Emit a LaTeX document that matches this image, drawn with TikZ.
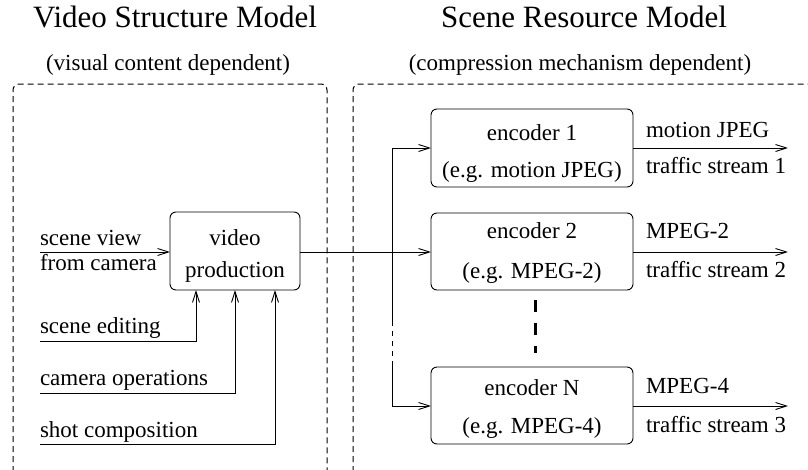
\documentclass[tikz,border=0pt]{standalone}
\usepackage{fontspec}
\setmainfont{Liberation Serif}
\usetikzlibrary{arrows.meta}
\begin{document}
\begin{tikzpicture}[x=1pt,y=-1pt,
  every node/.style={inner sep=0pt, outer sep=0pt},
  lbl/.style={font=\fontsize{23}{23}\selectfont, anchor=base west},
  ctr/.style={font=\fontsize{23}{23}\selectfont, anchor=base},
  ttl/.style={font=\fontsize{31}{31}\selectfont, anchor=base},
  box/.style={draw, line width=0.9pt, rounded corners=6pt},
  region/.style={draw, line width=1pt, dash pattern=on 6pt off 4pt, rounded corners=6pt},
  conn/.style={line width=0.9pt},
  arr/.style={conn, -{Straight Barb[length=11pt,width=7pt,line width=0.9pt]}},
  dots/.style={line width=3pt, dash pattern=on 12pt off 11pt}
]
\useasboundingbox (0,0) rectangle (808,469);

% titles
\node[ttl] (t1) at (175,27) {Video Structure Model};
\node[ttl] (t2) at (584,27) {Scene Resource Model};
\node[ctr] (s1) at (168,70) {(visual content dependent)};
\node[ctr] (s2) at (580,70) {(compression mechanism dependent)};

% dashed regions
\draw[region] (13,472) -- (13,84) -- (327,84) -- (327,472);
\draw[region] (353,472) -- (353,84) -- (812,84);

% video production
\node[box, minimum width=130pt, minimum height=78pt] (vp) at (235,251) {};
\node[ctr] (vp1) at (235,245) {video};
\node[ctr] (vp2) at (235,277) {production};

% encoders
\node[box, minimum width=202pt, minimum height=78pt] (e1) at (532,148) {};
\node[ctr] (e1a) at (532,140) {encoder 1};
\node[ctr] (e1b) at (532,177) {(e.g. motion JPEG)};
\node[box, minimum width=202pt, minimum height=77pt] (e2) at (532,251.5) {};
\node[ctr] (e2a) at (532,238) {encoder 2};
\node[ctr] (e2b) at (532,278) {(e.g. MPEG-2)};
\node[box, minimum width=202pt, minimum height=77pt] (eN) at (532,405.5) {};
\node[ctr] (eNa) at (532,395) {encoder N};
\node[ctr] (eNb) at (532,433) {(e.g. MPEG-4)};

% input labels
\node[lbl] (l1) at (40,245) {scene view};
\node[lbl] (l2) at (40,270) {from camera};
\node[lbl] (l3) at (40,333) {scene editing};
\node[lbl] (l4) at (40,385) {camera operations};
\node[lbl] (l5) at (40,437) {shot composition};

% output labels
\node[lbl] (o1a) at (646,137) {motion JPEG};
\node[lbl] (o1b) at (646,173) {traffic stream 1};
\node[lbl] (o2a) at (646,238) {MPEG-2};
\node[lbl] (o2b) at (646,277) {traffic stream 2};
\node[lbl] (o3a) at (646,393) {MPEG-4};
\node[lbl] (o3b) at (646,432) {traffic stream 3};

% coordinates
\coordinate (in0) at (40,252);
\coordinate (in1) at (40,341);
\coordinate (in2) at (40,393);
\coordinate (in3) at (40,444);
\coordinate (j1) at (392,148);
\coordinate (ja) at (392,321);
\coordinate (jb) at (392,362);
\coordinate (jN) at (392,406);
\coordinate (out1) at (788,148);
\coordinate (out2) at (788,252);
\coordinate (out3) at (788,406);
\coordinate (d1) at (535,300);
\coordinate (d2) at (535,353);

% connectors
\draw[arr] (in0) -- (vp.west |- in0);
\draw[arr] (in1) -- (196,341) -- (196,290);
\draw[arr] (in2) -- (235,393) -- (235,290);
\draw[arr] (in3) -- (275,444) -- (275,290);
\draw[arr] (vp.east |- in0) -- (e2.west |- in0);
\draw[conn] (ja) -- (j1);
\draw[conn, dash pattern=on 5pt off 5pt] (ja) -- (jb);
\draw[conn] (jb) -- (jN);
\draw[arr] (j1) -- (e1.west);
\draw[arr] (jN) -- (eN.west |- jN);
\draw[arr] (e1.east) -- (out1);
\draw[arr] (e2.east |- out2) -- (out2);
\draw[arr] (eN.east |- out3) -- (out3);
\draw[dots] (d1) -- (d2);
\end{tikzpicture}
\end{document}
